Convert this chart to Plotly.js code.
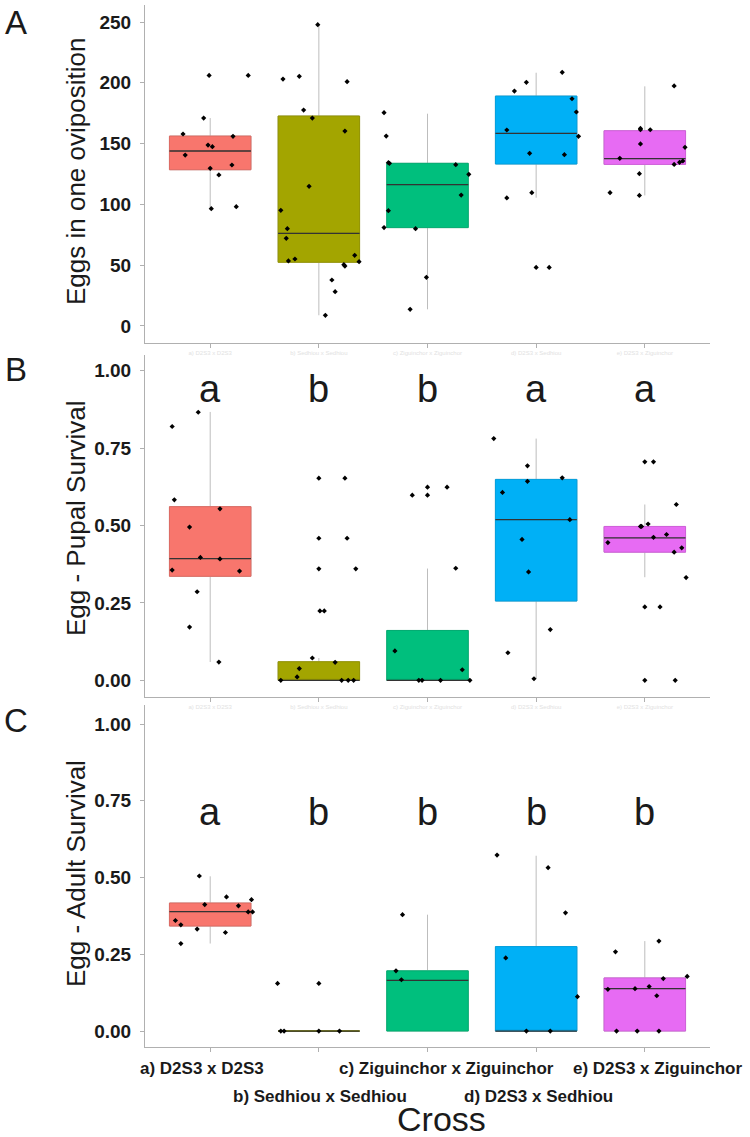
<!DOCTYPE html>
<html>
<head>
<meta charset="utf-8">
<script src="https://cdn.plot.ly/plotly-3.0.1.min.js"></script>
<style>html,body{margin:0;padding:0;background:#fff;}#chart{width:750px;height:1137px;}</style>
</head>
<body>
<div id="chart"></div>
<script>
// ---------------- data ----------------
const categories = ['a) D2S3 x D2S3', 'b) Sedhiou x Sedhiou', 'c) Ziguinchor x Ziguinchor', 'd) D2S3 x Sedhiou', 'e) D2S3 x Ziguinchor'];
const catIndex = [1, 2, 3, 4, 5];
const fillColors = ['#F8766D', '#A3A500', '#00BF7D', '#00B0F6', '#E76BF3'];
const edgeColors = ['#dd6a62', '#939400', '#00ac70', '#009fdd', '#d060da'];

// Panel A: Eggs in one oviposition
const eggsQ1 = [128.5, 52.4, 80.9, 133.2, 132.9];
const eggsMedian = [143.9, 76.2, 116.2, 158.4, 137.6];
const eggsQ3 = [156.2, 172.7, 133.8, 189.1, 160.6];
const eggsLow = [96.5, 8.8, 13.7, 105.5, 107.4];
const eggsHigh = [171.0, 248.0, 174.6, 208.3, 197.1];
const eggsX = [0.75,0.77,0.94,0.99,0.98,1.02,1.00,1.08,1.21,1.20,1.01,1.24,1.35,
  1.67,1.82,1.86,1.94,1.99,1.91,1.65,1.71,1.70,1.72,1.78,2.12,2.15,2.06,2.26,2.24,2.33,2.23,2.24,2.37,
  2.60,2.62,2.64,2.65,2.64,2.60,2.89,2.84,2.99,3.26,3.38,3.31,
  3.73,3.73,3.80,3.91,3.94,3.96,4.00,4.12,4.24,4.33,4.37,4.39,4.26,
  4.68,4.77,4.95,4.95,4.96,4.96,4.96,5.05,5.27,5.32,5.35,5.27,5.37];
const eggsY = [157.9,140.6,171.0,206.1,148.8,147.5,129.7,124.2,156.0,132.4,96.5,98.1,206.1,
  203.1,205.3,177.6,171.0,247.8,114.9,95.1,80.0,72.1,53.5,55.1,37.8,28.2,8.8,200.9,160.3,58.1,50.4,49.3,52.9,
  175.4,156.2,134.3,133.8,94.8,80.9,80.0,13.7,40.0,132.7,124.7,107.7,
  105.3,161.2,193.2,200.4,142.0,109.6,48.2,48.2,208.6,186.9,176.0,156.0,140.9,
  109.6,137.9,125.3,107.4,149.7,162.5,161.4,161.4,132.9,134.6,135.7,197.4,146.9];

// Panel B: Egg - Pupal Survival
const pupalQ1 = [0.336, 0, 0, 0.256, 0.414];
const pupalMedian = [0.393, 0, 0, 0.519, 0.460];
const pupalQ3 = [0.561, 0.060, 0.161, 0.649, 0.497];
const pupalLow = [0.059, 0, 0, 0.005, 0.333];
const pupalHigh = [0.867, 0.072, 0.361, 0.781, 0.568];
const pupalX = [0.65,0.67,0.81,0.91,0.89,1.09,1.09,0.65,1.27,0.88,0.81,1.08,
  1.65,1.80,1.82,1.94,2.15,2.21,2.27,2.32,2.00,2.24,2.00,2.26,2.00,2.34,2.01,2.05,
  2.70,2.92,2.95,3.12,3.39,3.32,2.86,3.00,3.00,3.18,3.26,
  3.61,3.69,3.92,3.92,4.24,4.31,3.87,3.93,4.13,3.74,3.98,
  4.66,4.96,4.97,5.03,5.08,5.20,5.27,5.34,5.29,5.38,5.00,5.08,5.00,5.14,5.00,5.28];
const pupalY = [0.820,0.583,0.495,0.397,0.866,0.554,0.392,0.356,0.353,0.286,0.172,0.059,
  0,0.011,0.038,0.072,0.058,0,0,0,0.653,0.653,0.459,0.459,0.360,0.360,0.224,0.224,
  0.095,0,0,0,0,0.034,0.598,0.598,0.624,0.624,0.362,
  0.781,0.607,0.693,0.643,0.654,0.519,0.455,0.350,0.164,0.089,0.005,
  0.445,0.497,0.497,0.505,0.462,0.471,0.414,0.428,0.568,0.332,0.706,0.706,0.237,0.237,0,0];
const pupalLetters = ['a', 'b', 'b', 'a', 'a'];

// Panel C: Egg - Adult Survival
const adultQ1 = [0.342, 0, 0, 0, 0];
const adultMedian = [0.389, 0, 0.165, 0, 0.138];
const adultQ3 = [0.417, 0, 0.196, 0.275, 0.173];
const adultLow = [0.285, 0, 0, 0, 0];
const adultHigh = [0.504, 0, 0.379, 0.571, 0.293];
const adultX = [0.68,0.73,0.73,0.88,0.90,0.95,1.15,1.14,1.26,1.38,1.35,1.39,
  1.62,2.00,1.65,1.68,2.00,2.19,
  2.77,2.71,2.76,
  3.64,4.11,4.27,3.72,4.38,3.91,4.13,
  4.73,4.66,4.91,5.04,5.17,5.11,5.13,5.39,4.74,4.93,5.13];
const adultY = [0.360,0.346,0.285,0.332,0.505,0.412,0.437,0.321,0.408,0.428,0.388,0.388,
  0.155,0.155,0,0,0,0,
  0.379,0.196,0.167,
  0.573,0.532,0.385,0.238,0.112,0,0,
  0.258,0.136,0.138,0.145,0.171,0.115,0.293,0.178,0,0,0];
const adultLetters = ['a', 'b', 'b', 'b', 'b'];

const eggsTicks = [0, 50, 100, 150, 200, 250];
const survTicks = [0, 0.25, 0.5, 0.75, 1.0];

// ---------------- build ----------------
const traces = [];
function addPanel(xa, ya, q1, med, q3, lo, hi, px, py) {
  for (let i = 0; i < catIndex.length; i++) {
    const base = {type: 'box', x: [catIndex[i]], width: 0.75, xaxis: xa, yaxis: ya,
      boxpoints: false, hoverinfo: 'skip', showlegend: false, whiskerwidth: 0};
    // whiskers
    traces.push(Object.assign({}, base, {q1: [q1[i]], median: [med[i]], q3: [q3[i]],
      lowerfence: [lo[i]], upperfence: [hi[i]], fillcolor: fillColors[i],
      line: {color: '#bdbdbd', width: 1}}));
    // box body
    traces.push(Object.assign({}, base, {q1: [q1[i]], median: [med[i]], q3: [q3[i]],
      lowerfence: [q1[i]], upperfence: [q3[i]], fillcolor: fillColors[i],
      line: {color: edgeColors[i], width: 1}}));
    // median line
    traces.push(Object.assign({}, base, {q1: [med[i]], median: [med[i]], q3: [med[i]],
      lowerfence: [med[i]], upperfence: [med[i]], fillcolor: 'rgba(0,0,0,0)',
      line: {color: '#333333', width: 1.3}}));
  }
  traces.push({type: 'scatter', mode: 'markers', x: px, y: py, xaxis: xa, yaxis: ya,
    marker: {symbol: 'diamond', size: 4, color: '#000'}, hoverinfo: 'skip', showlegend: false, cliponaxis: false});
}
addPanel('x', 'y', eggsQ1, eggsMedian, eggsQ3, eggsLow, eggsHigh, eggsX, eggsY);
addPanel('x2', 'y2', pupalQ1, pupalMedian, pupalQ3, pupalLow, pupalHigh, pupalX, pupalY);
addPanel('x3', 'y3', adultQ1, adultMedian, adultQ3, adultLow, adultHigh, adultX, adultY);

const H = 1137;
const tickFont = {family: 'Liberation Sans, Arial, sans-serif', size: 19, color: '#1a1a1a', weight: 'bold'};
function xAxis(anchor, faint) {
  return {anchor: anchor, range: [0.4, 5.6], showgrid: false, zeroline: false,
    showline: true, linecolor: '#b0b0b0', linewidth: 1,
    ticks: 'outside', ticklen: 4, tickcolor: '#b0b0b0',
    tickvals: catIndex, ticktext: categories, showticklabels: faint,
    tickfont: {family: 'Liberation Sans, Arial, sans-serif', size: 6, color: '#e2e2e2'}, ticklabelstandoff: 0};
}
function yAxis(anchor, domPx, range, ticks, fmt) {
  return {anchor: anchor, domain: [1 - domPx[1] / H, 1 - domPx[0] / H], range: range,
    showgrid: false, zeroline: false, showline: true, linecolor: '#b0b0b0', linewidth: 1,
    ticks: 'outside', ticklen: 4, tickcolor: '#b0b0b0', tickvals: ticks, tickformat: fmt,
    tickfont: tickFont, ticklabelstandoff: 5};
}

const annotations = [];
const letterFont = {family: 'Liberation Sans, Arial, sans-serif', size: 38, color: '#1a1a1a'};
for (let i = 0; i < catIndex.length; i++) {
  annotations.push({xref: 'x2', yref: 'y2', x: catIndex[i], y: 0.94, text: pupalLetters[i],
    showarrow: false, font: letterFont, xanchor: 'center', yanchor: 'middle'});
  annotations.push({xref: 'x3', yref: 'y3', x: catIndex[i], y: 0.713, text: adultLetters[i],
    showarrow: false, font: letterFont, xanchor: 'center', yanchor: 'middle'});
}
// staggered category labels under panel C
const labelRowY = [1068, 1096, 1068, 1096, 1068];
const labelShift = [-8, 1, 19, 2, 13];
for (let i = 0; i < catIndex.length; i++) {
  annotations.push({xref: 'x3', yref: 'paper', x: catIndex[i], y: 1 - labelRowY[i] / H,
    xshift: labelShift[i], text: categories[i], showarrow: false,
    font: {family: 'Liberation Sans, Arial, sans-serif', size: 17, color: '#1a1a1a', weight: 'bold'},
    xanchor: 'center', yanchor: 'middle'});
}
// axis titles
const titleFont = {family: 'Liberation Sans, Arial, sans-serif', size: 26, color: '#1a1a1a'};
const yTitles = ['Eggs in one oviposition', 'Egg - Pupal Survival', 'Egg - Adult Survival'];
const yTitleCenters = [172, 518, 874];
for (let i = 0; i < 3; i++) {
  annotations.push({xref: 'paper', yref: 'paper', x: (76 - 145) / 565, y: 1 - yTitleCenters[i] / H,
    text: yTitles[i], textangle: -90, showarrow: false, font: titleFont, xanchor: 'center', yanchor: 'middle'});
}
annotations.push({xref: 'paper', yref: 'paper', x: 0.5, xshift: 14, y: 0, yanchor: 'bottom', yshift: -2, text: 'Cross',
  showarrow: false, font: {family: 'Liberation Sans, Arial, sans-serif', size: 34, color: '#1a1a1a'},
  xanchor: 'center', borderpad: 0});
// panel letters
const panelLetters = ['A', 'B', 'C'];
const panelLetterY = [22, 370, 721];
for (let i = 0; i < 3; i++) {
  annotations.push({xref: 'paper', yref: 'paper', x: (16 - 145) / 565, y: 1 - panelLetterY[i] / H,
    text: panelLetters[i], showarrow: false,
    font: {family: 'Liberation Sans, Arial, sans-serif', size: 33, color: '#1a1a1a'},
    xanchor: 'center', yanchor: 'middle'});
}

const layout = {
  width: 750, height: 1137,
  margin: {l: 145, r: 40, t: 0, b: 0},
  paper_bgcolor: '#fff', plot_bgcolor: '#fff',
  showlegend: false, boxmode: 'overlay',
  xaxis: xAxis('y', true),
  xaxis2: xAxis('y2', true),
  xaxis3: xAxis('y3', false),
  yaxis: yAxis('x', [5, 343], [-14, 264], eggsTicks, 'd'),
  yaxis2: yAxis('x2', [355, 697], [-0.054, 1.051], survTicks, '.2f'),
  yaxis3: yAxis('x3', [705, 1047], [-0.052, 1.062], survTicks, '.2f'),
  annotations: annotations
};

Plotly.newPlot('chart', traces, layout, {staticPlot: true, displayModeBar: false});
</script>
</body>
</html>
